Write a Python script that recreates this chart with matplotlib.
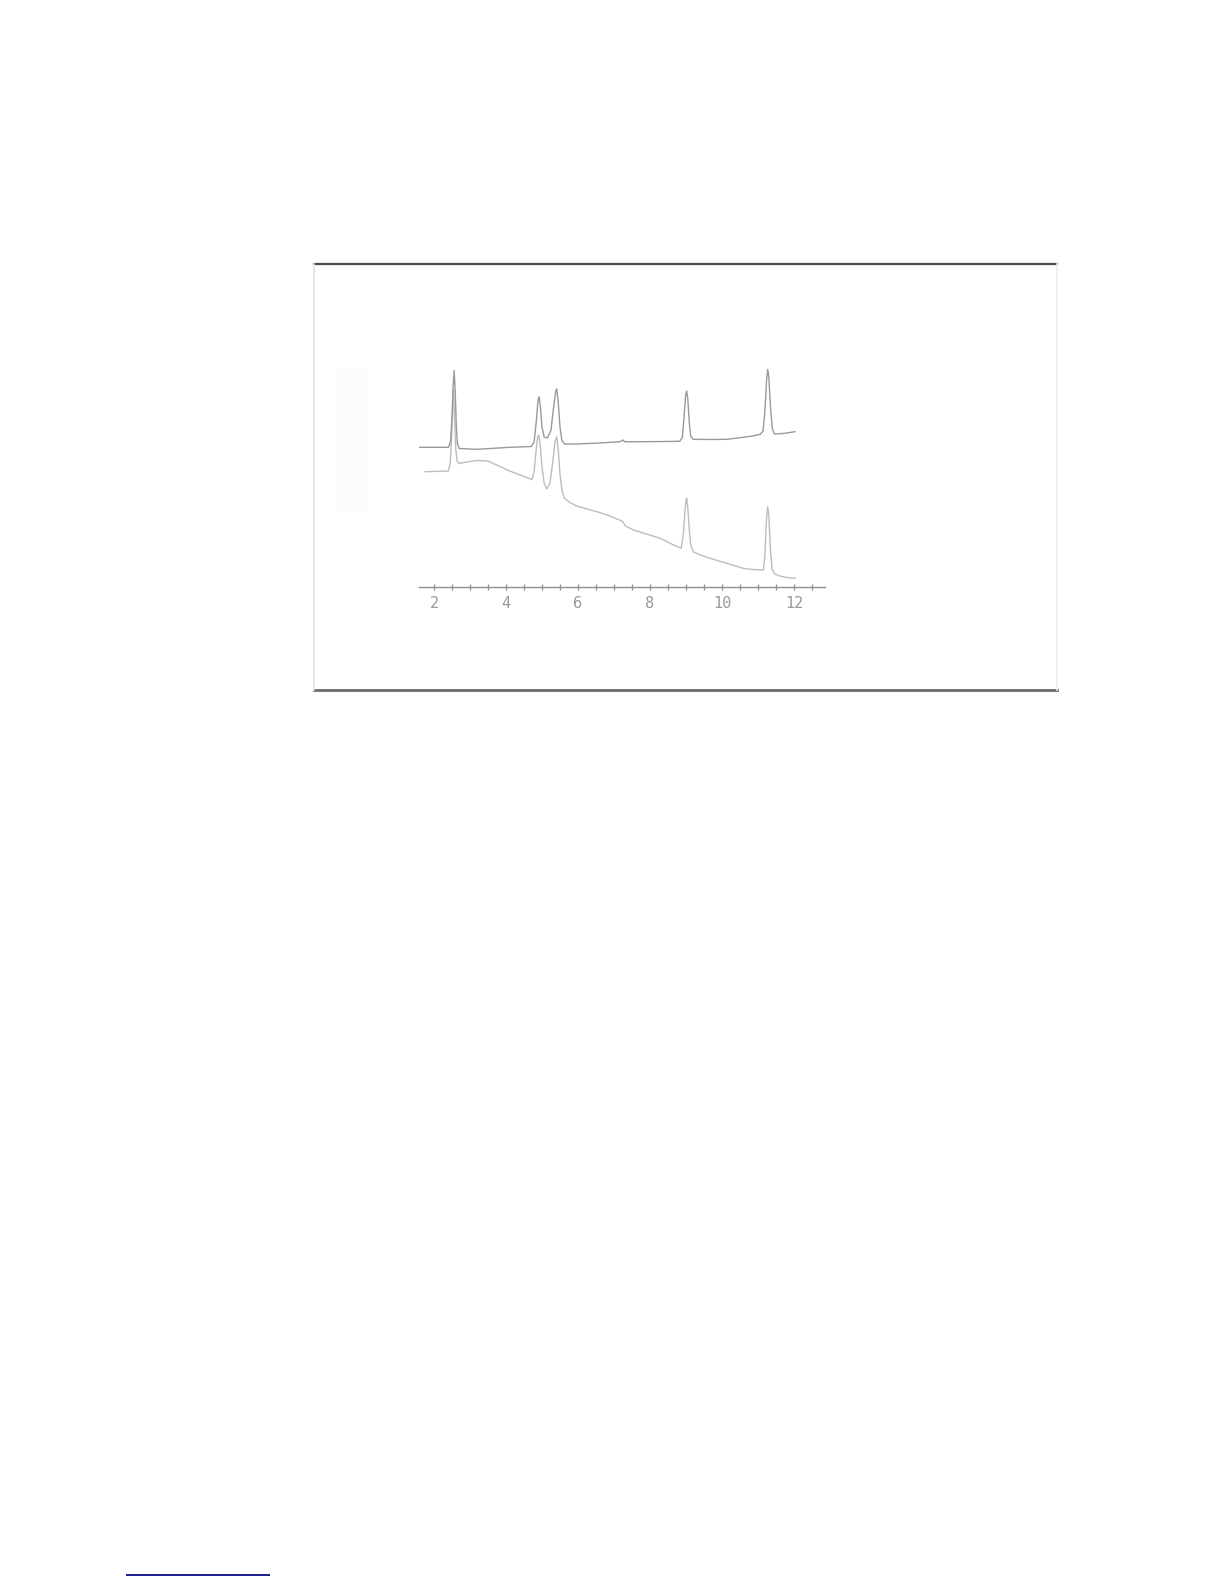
import numpy as np
import matplotlib
matplotlib.use("Agg")
import matplotlib.pyplot as plt
from matplotlib.lines import Line2D
from matplotlib.patches import Rectangle

# retention time (min) and detector response (arbitrary units)
top_t = [1.58, 2.40, 2.46, 2.50, 2.53, 2.56, 2.59, 2.62, 2.65, 2.70, 3.19, 4.11,
         4.70, 4.78, 4.84, 4.89, 4.92, 4.96, 5.00, 5.06, 5.15, 5.25, 5.33, 5.38,
         5.41, 5.45, 5.50, 5.55, 5.62, 5.96, 6.60, 7.17, 7.24, 7.30, 7.81, 8.40,
         8.83, 8.90, 8.95, 8.99, 9.02, 9.05, 9.09, 9.13, 9.20, 9.70, 10.13, 10.59,
         10.85, 11.06, 11.14, 11.19, 11.24, 11.27, 11.30, 11.35, 11.40, 11.46, 11.70, 12.03]
top_h = [139.7, 139.7, 145.0, 170.0, 200.0, 216.3, 195.0, 160.0, 143.0, 138.5, 137.7, 139.7,
         140.5, 145.0, 165.0, 187.0, 190.3, 178.0, 160.0, 150.0, 149.0, 157.0, 182.0, 196.0,
         198.0, 185.0, 160.0, 147.0, 143.0, 143.0, 144.0, 145.3, 147.0, 145.3, 145.3, 145.5,
         145.7, 150.0, 172.0, 192.0, 196.0, 188.0, 165.0, 151.0, 147.7, 147.5, 147.7, 149.7,
         151.0, 152.7, 156.0, 175.0, 208.0, 217.7, 210.0, 178.0, 158.0, 153.0, 153.5, 155.3]

bot_t = [1.75, 2.40, 2.45, 2.49, 2.52, 2.54, 2.57, 2.60, 2.64, 2.70, 2.90, 3.20,
         3.50, 3.80, 4.10, 4.40, 4.72, 4.78, 4.84, 4.88, 4.91, 4.95, 5.00, 5.06,
         5.13, 5.22, 5.30, 5.36, 5.41, 5.45, 5.50, 5.56, 5.62, 5.75, 5.96, 6.30,
         6.60, 6.89, 7.15, 7.24, 7.32, 7.54, 7.90, 8.28, 8.60, 8.86, 8.92, 8.97,
         9.00, 9.02, 9.05, 9.09, 9.13, 9.20, 9.40, 9.67, 10.10, 10.59, 10.85, 11.15,
         11.19, 11.23, 11.27, 11.30, 11.34, 11.39, 11.45, 11.60, 11.80, 12.03]
bot_h = [115.3, 116.0, 124.0, 150.0, 182.0, 197.0, 170.0, 140.0, 126.0, 123.5, 125.0, 126.5,
         126.0, 121.0, 116.0, 112.0, 107.5, 115.0, 138.0, 150.0, 152.0, 142.0, 120.0, 104.0,
         98.0, 104.0, 125.0, 145.0, 150.3, 138.0, 112.0, 96.0, 89.0, 85.0, 81.0, 77.5,
         74.5, 71.0, 67.0, 65.5, 61.0, 57.0, 53.0, 48.7, 43.0, 38.7, 50.0, 75.0,
         87.0, 88.7, 80.0, 58.0, 42.0, 35.3, 32.0, 28.7, 24.0, 18.7, 17.5, 17.0,
         30.0, 65.0, 80.3, 72.0, 40.0, 18.0, 13.5, 11.0, 9.5, 8.7]

tick_labels = ["2", "4", "6", "8", "10", "12"]
tick_pos = [2, 4, 6, 8, 10, 12]

W, H = 1224, 1584
fig = plt.figure(figsize=(W / 100, H / 100), dpi=100)


def fx(px):
    return px / W


def fy(py):
    return 1 - py / H


# frame around the figure panel
fig.add_artist(Line2D([fx(314), fx(1057)], [fy(264), fy(264)], color="#4a4a4a", lw=1.6))
fig.add_artist(Line2D([fx(314), fx(1057)], [fy(690.5), fy(690.5)], color="#6a6a6a", lw=2.0))
fig.add_artist(Line2D([fx(314), fx(314)], [fy(264), fy(690.5)], color="#e4e4e4", lw=1.2))
fig.add_artist(Line2D([fx(1057), fx(1057)], [fy(264), fy(690.5)], color="#eeeeee", lw=1.2))

# faint leftover box at the left of the trace
fig.add_artist(Rectangle((fx(337), fy(512)), fx(367) - fx(337), fy(368) - fy(512),
                         facecolor="#fcfcfc", edgecolor="none"))

# link underline at the foot of the page
fig.add_artist(Line2D([fx(127), fx(269)], [fy(1575), fy(1575)], color="#1c1c8a", lw=1.4))

t0 = 2 + (419 - 434) / 36
t1 = 2 + (825 - 434) / 36
ax = fig.add_axes([fx(419), fy(587), fx(825) - fx(419), (587 - 340) / H])
ax.set_xlim(t0, t1)
ax.set_ylim(0, 247)
ax.patch.set_alpha(0)

ax.plot(bot_t, bot_h, color="#bdbdbd", lw=1.0, solid_joinstyle="round")
ax.plot(top_t, top_h, color="#999999", lw=1.0, solid_joinstyle="round")

for s in ["top", "left", "right"]:
    ax.spines[s].set_visible(False)
ax.spines["bottom"].set_color("#8f8f8f")
ax.spines["bottom"].set_linewidth(1.0)
ax.set_yticks([])
ax.set_xticks(np.arange(2, 13, 0.5), minor=True)
ax.set_xticks(tick_pos)
ax.set_xticklabels(tick_labels, family="DejaVu Sans Mono", fontsize=11, color="#999999")
ax.tick_params(axis="x", which="both", direction="inout", length=5, width=0.9,
               color="#8f8f8f", pad=4)

fig.savefig("out.png", dpi=100)
